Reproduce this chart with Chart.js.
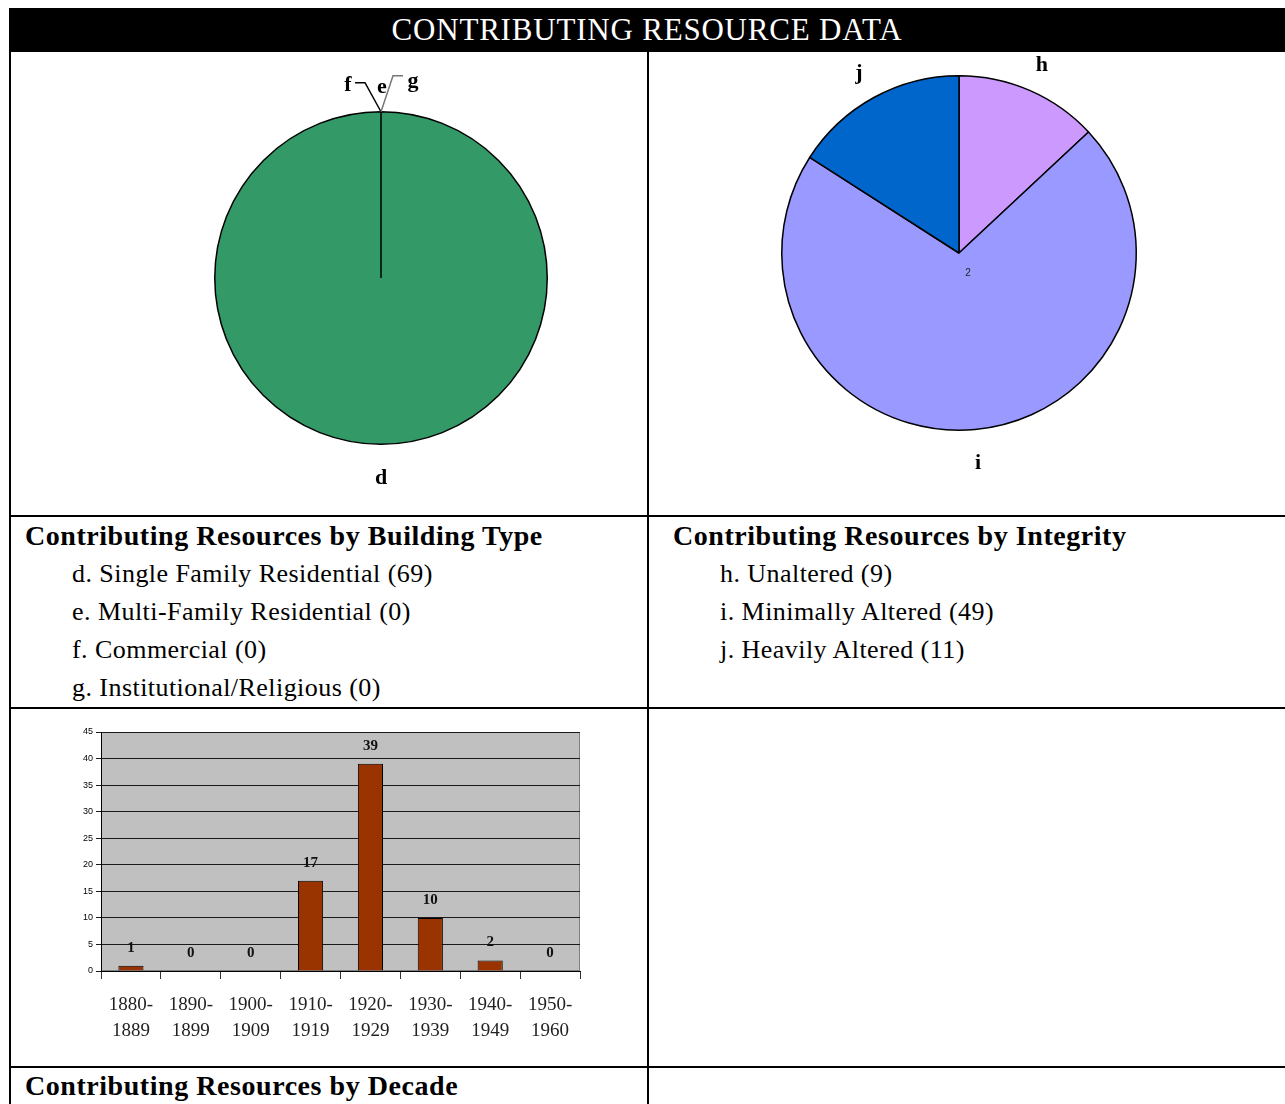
<!DOCTYPE html>
<html>
<head>
<meta charset="utf-8">
<script src="https://cdn.jsdelivr.net/npm/chart.js@4/dist/chart.umd.min.js"></script>
<style>
body { margin: 0; background: #fff; font-family: "Liberation Serif", serif; }
#page { position: relative; width: 1285px; height: 1104px; overflow: hidden; }
.line { position: absolute; background: #000; }
#header { position: absolute; left: 9px; top: 8px; width: 1276px; height: 44px; background: #000;
          color: #fff; text-align: center; font-size: 31px; letter-spacing: 0.8px; line-height: 44px; }
.title { position: absolute; font-weight: bold; font-size: 28px; letter-spacing: 0.55px; line-height: 30px; white-space: nowrap; }
.list { position: absolute; font-size: 26px; letter-spacing: 0.45px; line-height: 38px; white-space: nowrap; }
canvas { position: absolute; }
</style>
</head>
<body>
<div id="page">
  <div id="header">CONTRIBUTING RESOURCE DATA</div>

  <div class="line" style="left:9px;top:52px;width:2px;height:1052px"></div>
  <div class="line" style="left:647px;top:52px;width:2px;height:1052px"></div>
  <div class="line" style="left:9px;top:515px;width:1276px;height:2px"></div>
  <div class="line" style="left:9px;top:707px;width:1276px;height:2px"></div>
  <div class="line" style="left:9px;top:1066px;width:1276px;height:2px"></div>

  <canvas id="typePie" width="636" height="463" style="left:11px;top:52px"></canvas>
  <canvas id="integrityPie" width="636" height="463" style="left:649px;top:52px"></canvas>
  <canvas id="decadeBar" width="540" height="330" style="left:60px;top:720px"></canvas>

  <div class="title" style="left:25px;top:521px">Contributing Resources by Building Type</div>
  <div class="list" id="typeList" style="left:72px;top:555px"></div>
  <div class="title" style="left:673px;top:521px">Contributing Resources by Integrity</div>
  <div class="list" id="integrityList" style="left:720px;top:555px"></div>
  <div class="title" style="left:25px;top:1071px">Contributing Resources by Decade</div>
</div>

<script>
// building type pie
const typeKeys = ['d', 'e', 'f', 'g'];
const typeNames = ['Single Family Residential', 'Multi-Family Residential', 'Commercial', 'Institutional/Religious'];
const typeCounts = [69, 0, 0, 0];
const typeColors = ['#339966', '#339966', '#339966', '#339966'];

// integrity pie
const integrityKeys = ['h', 'i', 'j'];
const integrityNames = ['Unaltered', 'Minimally Altered', 'Heavily Altered'];
const integrityCounts = [9, 49, 11];
const integrityColors = ['#CC99FF', '#9999FF', '#0066CC'];

// decade bars
const decadeLabels = [['1880-', '1889'], ['1890-', '1899'], ['1900-', '1909'], ['1910-', '1919'],
                      ['1920-', '1929'], ['1930-', '1939'], ['1940-', '1949'], ['1950-', '1960']];
const decadeCounts = [1, 0, 0, 17, 39, 10, 2, 0];
const yMax = 45;
const yStep = 5;

// text lists under the pies
function fillList(id, keys, names, counts) {
    let html = '';
    keys.forEach((k, i) => {
        html += '<div>' + k + '. ' + names[i] + ' (' + counts[i] + ')</div>';
    });
    document.getElementById(id).innerHTML = html;
}
fillList('typeList', typeKeys, typeNames, typeCounts);
fillList('integrityList', integrityKeys, integrityNames, integrityCounts);

// letters round the pie, with leader lines for the empty slices
const sliceLabels = {
    id: 'sliceLabels',
    afterDatasetsDraw(chart, args, opts) {
        const ctx = chart.ctx;
        const meta = chart.getDatasetMeta(0);
        ctx.save();
        ctx.font = 'bold 22px "Liberation Serif"';
        ctx.textAlign = 'center';
        ctx.textBaseline = 'middle';
        ctx.fillStyle = '#000';
        meta.data.forEach((arc, i) => {
            const p = arc.getProps(['x', 'y', 'startAngle', 'endAngle', 'outerRadius']);
            const key = chart.data.labels[i];
            if (p.endAngle - p.startAngle > 0.0001) {
                const mid = (p.startAngle + p.endAngle) / 2;
                const r = p.outerRadius + opts.offset;
                ctx.fillText(key, p.x + Math.cos(mid) * r, p.y + Math.sin(mid) * r + 3);
            } else {
                const ax = p.x + Math.cos(p.startAngle) * p.outerRadius;
                const ay = p.y + Math.sin(p.startAngle) * p.outerRadius;
                const lead = opts.leaders[key];
                if (lead.pts.length) {
                    ctx.beginPath();
                    ctx.moveTo(ax, ay);
                    lead.pts.forEach(pt => ctx.lineTo(ax + pt[0], ay + pt[1]));
                    ctx.strokeStyle = lead.color;
                    ctx.lineWidth = 1.5;
                    ctx.stroke();
                }
                ctx.fillText(key, ax + lead.text[0], ay + lead.text[1]);
            }
        });
        if (opts.note) {
            ctx.font = '10px "Liberation Sans"';
            ctx.fillStyle = '#222';
            const c = meta.data[0];
            ctx.fillText(opts.note.text, c.x + opts.note.dx, c.y + opts.note.dy);
        }
        ctx.restore();
    }
};

new Chart(document.getElementById('typePie'), {
    type: 'pie',
    data: {
        labels: typeKeys,
        datasets: [{
            data: typeCounts,
            backgroundColor: typeColors,
            borderColor: '#000',
            borderWidth: 1.5
        }]
    },
    options: {
        responsive: false,
        animation: false,
        layout: { padding: { left: 203, right: 99, top: 59, bottom: 70 } },
        plugins: {
            legend: { display: false },
            tooltip: { enabled: false },
            sliceLabels: {
                offset: 31,
                leaders: {
                    e: { pts: [], text: [1, -24], color: '#000' },
                    f: { pts: [[-16, -29], [-26, -29]], text: [-33, -26], color: '#000' },
                    g: { pts: [[12, -36], [22, -36]], text: [32, -30], color: '#777' }
                }
            }
        }
    },
    plugins: [sliceLabels]
});

new Chart(document.getElementById('integrityPie'), {
    type: 'pie',
    data: {
        labels: integrityKeys,
        datasets: [{
            data: integrityCounts,
            backgroundColor: integrityColors,
            borderColor: '#000',
            borderWidth: 1.5
        }]
    },
    options: {
        responsive: false,
        animation: false,
        layout: { padding: { left: 131, right: 147, top: 23, bottom: 84 } },
        plugins: {
            legend: { display: false },
            tooltip: { enabled: false },
            sliceLabels: {
                offset: 31,
                leaders: {},
                note: { text: '2', dx: 9, dy: 20 }
            }
        }
    },
    plugins: [sliceLabels]
});

// grey plot area + value labels above bars
const plotBg = {
    id: 'plotBg',
    beforeDraw(chart) {
        const a = chart.chartArea;
        const ctx = chart.ctx;
        ctx.save();
        ctx.fillStyle = '#C0C0C0';
        ctx.fillRect(a.left, a.top, a.right - a.left, a.bottom - a.top);
        ctx.strokeStyle = '#808080';
        ctx.lineWidth = 1;
        ctx.strokeRect(a.left + 0.5, a.top + 0.5, a.right - a.left - 1, a.bottom - a.top - 1);
        ctx.restore();
    }
};

const barValues = {
    id: 'barValues',
    afterDatasetsDraw(chart) {
        const ctx = chart.ctx;
        const meta = chart.getDatasetMeta(0);
        ctx.save();
        ctx.font = 'bold 15px "Liberation Serif"';
        ctx.textAlign = 'center';
        ctx.textBaseline = 'middle';
        ctx.fillStyle = '#111';
        meta.data.forEach((bar, i) => {
            ctx.fillText(String(decadeCounts[i]), bar.x, bar.y - 18);
        });
        ctx.restore();
    }
};

new Chart(document.getElementById('decadeBar'), {
    type: 'bar',
    data: {
        labels: decadeLabels,
        datasets: [{
            data: decadeCounts,
            backgroundColor: '#993300',
            borderColor: '#000',
            borderWidth: 1,
            barPercentage: 0.42,
            categoryPercentage: 1
        }]
    },
    options: {
        responsive: false,
        animation: false,
        layout: { padding: { left: 0, right: 20, top: 12, bottom: 0 } },
        plugins: {
            legend: { display: false },
            tooltip: { enabled: false }
        },
        scales: {
            x: {
                afterFit(s) { s.height = 79; },
                grid: { offset: true, drawOnChartArea: false, tickLength: 8, color: '#333', lineWidth: 1 },
                border: { color: '#000', width: 1 },
                ticks: {
                    autoSkip: false,
                    maxRotation: 0,
                    padding: 13,
                    color: '#222',
                    font: { family: '"Liberation Serif"', size: 19, lineHeight: 1.37 }
                }
            },
            y: {
                min: 0,
                max: yMax,
                afterFit(s) { s.width = 41; },
                grid: { color: '#1a1a1a', lineWidth: 1, tickLength: 5 },
                border: { color: '#000', width: 1 },
                ticks: {
                    stepSize: yStep,
                    padding: 3,
                    color: '#000',
                    font: { family: '"Liberation Sans"', size: 9 }
                }
            }
        }
    },
    plugins: [plotBg, barValues]
});
</script>
</body>
</html>
